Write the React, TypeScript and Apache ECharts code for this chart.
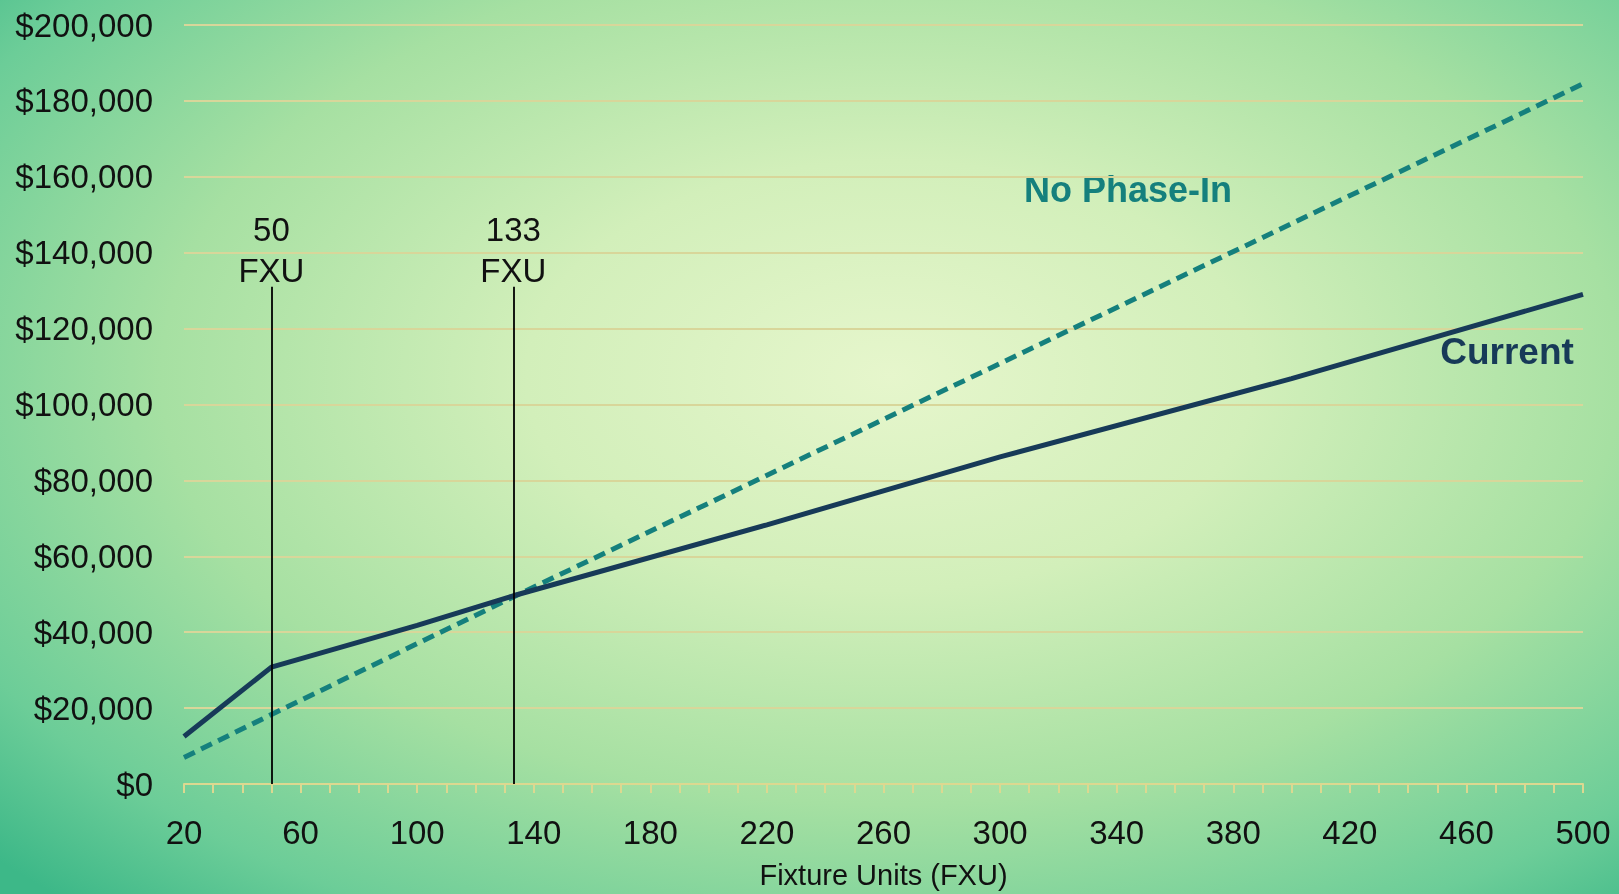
import React, { useEffect, useRef } from "react";
import * as echarts from "echarts";

const xTicks = [20, 60, 100, 140, 180, 220, 260, 300, 340, 380, 420, 460, 500];
const yTicks = [0, 20000, 40000, 60000, 80000, 100000, 120000, 140000, 160000, 180000, 200000];

const currentX = [20, 50, 100, 133, 220, 300, 400, 500];
const currentY = [12500, 30800, 41800, 49600, 68300, 86200, 106800, 129000];

const noPhaseX = [20, 50, 133, 500];
const noPhaseY = [7000, 18300, 49300, 184500];

const markers = [50, 133];
const markerTop = 131000;

const seriesNames = ["Current", "No Phase-In"];

export default function App() {
  const ref = useRef<HTMLDivElement>(null);
  useEffect(() => {
    if (!ref.current) return;
    const chart = echarts.init(ref.current, null, { renderer: "svg" });
    const navy = "#173a58";
    const teal = "#15807d";
    chart.setOption({
      animation: false,
      backgroundColor: "transparent",
      grid: { left: 184, right: 36, top: 25, bottom: 107, containLabel: false },
      xAxis: {
        type: "value",
        min: xTicks[0],
        max: xTicks[xTicks.length - 1],
        interval: 40,
        name: "Fixture Units (FXU)",
        nameLocation: "middle",
        nameGap: 76,
        nameTextStyle: {
          fontFamily: "Liberation Sans Narrow, Liberation Sans, Arial",
          fontSize: 29,
          color: "#111",
        },
        axisLine: { show: true, lineStyle: { color: "#dcd890", width: 2 } },
        axisTick: { show: true, length: 9, lineStyle: { color: "#dcd890", width: 2 } },
        minorTick: { show: true, splitNumber: 4, length: 9, lineStyle: { color: "#dcd890", width: 2 } },
        splitLine: { show: false },
        axisLabel: {
          margin: 32,
          fontFamily: "Liberation Sans Narrow, Liberation Sans, Arial",
          fontSize: 33,
          color: "#111",
        },
      },
      yAxis: {
        type: "value",
        min: yTicks[0],
        max: yTicks[yTicks.length - 1],
        interval: 20000,
        axisLine: { show: false },
        axisTick: { show: false },
        splitLine: { show: true, lineStyle: { color: "#d8d69a", width: 2 } },
        axisLabel: {
          margin: 31,
          fontFamily: "Liberation Sans, Arial",
          fontSize: 33,
          color: "#111",
          formatter: (v: number) => "$" + v.toLocaleString("en-US"),
        },
      },
      series: [
        {
          name: seriesNames[0],
          type: "line",
          data: currentX.map((x, i) => [x, currentY[i]]),
          showSymbol: false,
          lineStyle: { color: navy, width: 5 },
          z: 3,
          markLine: {
            silent: true,
            symbol: "none",
            lineStyle: { color: "#000", width: 1.8, type: "solid" },
            label: {
              show: true,
              position: "end",
              distance: -4,
              fontFamily: "Liberation Sans, Arial",
              fontSize: 33,
              lineHeight: 41,
              color: "#111",
            },
            data: markers.map((m) => [
              { coord: [m, 0] },
              { coord: [m, markerTop], label: { formatter: m + "\nFXU" } },
            ]),
          },
        },
        {
          name: seriesNames[1],
          type: "line",
          data: noPhaseX.map((x, i) => [x, noPhaseY[i]]),
          showSymbol: false,
          lineStyle: { color: teal, width: 5, type: [12, 7] },
          z: 2,
        },
      ],
      graphic: [
        {
          type: "text",
          x: 1128,
          y: 189,
          style: {
            text: seriesNames[1],
            fill: teal,
            font: "bold 36px 'Liberation Sans', Arial",
            textAlign: "center",
            textVerticalAlign: "middle",
          },
        },
        {
          type: "text",
          x: 1507,
          y: 351,
          style: {
            text: seriesNames[0],
            fill: navy,
            font: "bold 37px 'Liberation Sans', Arial",
            textAlign: "center",
            textVerticalAlign: "middle",
          },
        },
      ],
    });
    return () => chart.dispose();
  }, []);
  return (
    <div
      ref={ref}
      style={{
        position: "fixed",
        left: 0,
        top: 0,
        width: 1619,
        height: 894,
        background:
          "radial-gradient(ellipse 75% 80% at 55% 42%, #e6f6cc 0%, #d2efba 30%, #a6e0a2 60%, #6ccd98 85%, #3db888 100%)",
      }}
    />
  );
}
